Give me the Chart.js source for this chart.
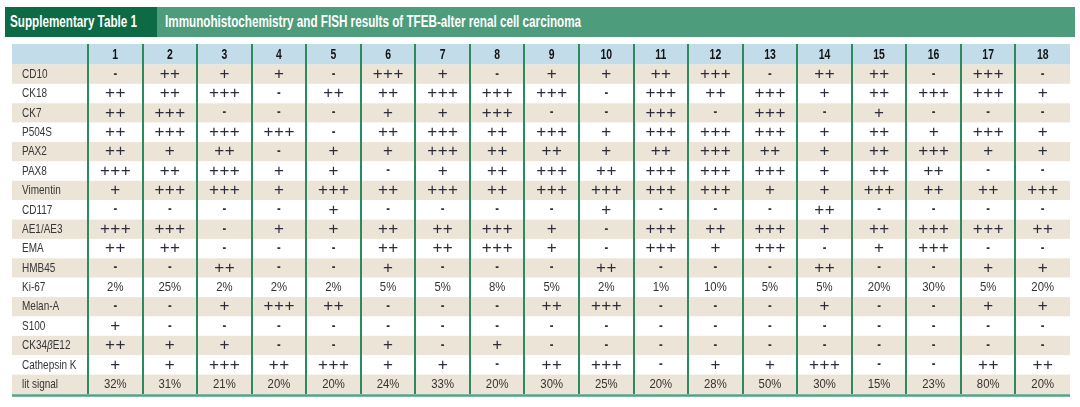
<!DOCTYPE html>
<html><head><meta charset="utf-8">
<script src="https://cdn.jsdelivr.net/npm/chart.js@4.4.1/dist/chart.umd.min.js"></script>
<style>
html,body{margin:0;padding:0;background:#fff;}
#wrap{position:relative;width:1080px;height:407px;overflow:hidden;}
#cv{position:absolute;left:0;top:0;width:1080px;height:407px;}
.tb{position:absolute;top:7px;height:30px;line-height:30px;color:#fff;font-family:"Liberation Sans",Arial,sans-serif;font-weight:bold;font-size:16px;white-space:nowrap;box-sizing:border-box;overflow:hidden;}
.tb span{display:inline-block;transform:scaleX(0.73);transform-origin:0 50%;}
#t1{left:5px;width:152px;background:#0c6a44;padding-left:5px;}
#t2{left:157px;width:918px;background:#4d9c7c;padding-left:8px;}
</style></head>
<body>
<div id="wrap">
<canvas id="cv" width="1080" height="407"></canvas>
<div class="tb" id="t1"><span>Supplementary Table 1</span></div>
<div class="tb" id="t2"><span>Immunohistochemistry and FISH results of TFEB-alter renal cell carcinoma</span></div>
</div>
<script>
const cases = ['1','2','3','4','5','6','7','8','9','10','11','12','13','14','15','16','17','18'];
const markers = ['CD10','CK18','CK7','P504S','PAX2','PAX8','Vimentin','CD117','AE1/AE3','EMA','HMB45','Ki-67','Melan-A','S100','CK34βE12','Cathepsin K','lit signal'];

const CD10      = ['-','++','+','+','-','+++','+','-','+','+','++','+++','-','++','++','-','+++','-'];
const CK18      = ['++','++','+++','-','++','++','+++','+++','+++','-','+++','++','+++','+','++','+++','+++','+'];
const CK7       = ['++','+++','-','-','-','+','+','+++','-','-','+++','-','+++','-','+','-','-','-'];
const P504S     = ['++','+++','+++','+++','-','++','+++','++','+++','+','+++','+++','+++','+','++','+','+++','+'];
const PAX2      = ['++','+','++','-','+','+','+++','++','++','+','++','+++','++','+','++','+++','+','+'];
const PAX8      = ['+++','++','+++','+','+','-','+','++','+++','++','+++','+++','+++','+','++','++','-','-'];
const Vimentin  = ['+','+++','+++','+','+++','++','+++','++','+++','+++','+++','+++','+','+','+++','++','++','+++'];
const CD117     = ['-','-','-','-','+','-','-','-','-','+','-','-','-','++','-','-','-','-'];
const AE1AE3    = ['+++','+++','-','+','+','++','++','+++','+','-','+++','++','+++','+','++','+++','+++','++'];
const EMA       = ['++','++','-','-','-','++','++','+++','+','-','+++','+','+++','-','+','+++','-','-'];
const HMB45     = ['-','-','++','-','-','+','-','-','-','++','-','-','-','++','-','-','+','+'];
const Ki67      = ['2%','25%','2%','2%','2%','5%','5%','8%','5%','2%','1%','10%','5%','5%','20%','30%','5%','20%'];
const MelanA    = ['-','-','+','+++','++','-','-','-','++','+++','-','-','-','+','-','-','+','+'];
const S100      = ['+','-','-','-','-','-','-','-','-','-','-','-','-','-','-','-','-','-'];
const CK34bE12  = ['++','+','+','-','-','+','-','+','-','-','-','-','-','-','-','-','-','-'];
const CathepsinK= ['+','+','+++','++','+++','+','+','-','++','+++','-','+','+','+++','-','-','++','++'];
const litSignal = ['32%','31%','21%','20%','20%','24%','33%','20%','30%','25%','20%','28%','50%','30%','15%','23%','80%','20%'];

const rows = [CD10,CK18,CK7,P504S,PAX2,PAX8,Vimentin,CD117,AE1AE3,EMA,HMB45,Ki67,MelanA,S100,CK34bE12,CathepsinK,litSignal];
const points = [];
rows.forEach((r, ri) => r.forEach((v, ci) => points.push({x: cases[ci], y: markers[ri], v: v})));

const SANS = '"Liberation Sans",Arial,sans-serif';

function narrowText(ctx, text, x, y, font, color, align, sq) {
  ctx.save();
  ctx.font = font;
  ctx.fillStyle = color;
  ctx.textBaseline = 'middle';
  ctx.textAlign = align;
  ctx.translate(x, y);
  ctx.scale(sq, 1);
  ctx.fillText(text, 0, 0);
  ctx.restore();
}

function labelText(ctx, text, x, y) {
  ctx.save();
  ctx.translate(x, y);
  ctx.scale(0.74, 1);
  ctx.textBaseline = 'middle';
  ctx.textAlign = 'left';
  ctx.fillStyle = '#363636';
  let cx = 0;
  text.split(/(β)/).forEach(p => {
    if (!p) return;
    ctx.font = (p === 'β' ? 'italic ' : '') + '13.5px ' + SANS;
    ctx.fillText(p, cx, 0);
    cx += ctx.measureText(p).width;
  });
  ctx.restore();
}

const tablePlugin = {
  id: 'tableLook',
  beforeDraw(chart) {
    const ctx = chart.ctx, xs = chart.scales.x, ys = chart.scales.y, ca = chart.chartArea;
    const left = 12, right = ca.right;
    const bandY = Math.abs(ys.getPixelForValue(1) - ys.getPixelForValue(0));
    const bandX = Math.abs(xs.getPixelForValue(1) - xs.getPixelForValue(0));
    ctx.save();
    ctx.fillStyle = '#c3dcea';
    ctx.fillRect(left, xs.top, right - left, ca.top - xs.top);
    markers.forEach((m, i) => {
      const cy = ys.getPixelForValue(i);
      ctx.fillStyle = (i % 2 === 0) ? '#ece4d6' : '#ffffff';
      ctx.fillRect(left, cy - bandY / 2, right - left, bandY);
    });
    ctx.strokeStyle = '#2b8a5f';
    ctx.lineWidth = 2;
    cases.forEach((c, i) => {
      const x = Math.round(xs.getPixelForValue(i) - bandX / 2);
      ctx.beginPath();
      ctx.moveTo(x, xs.top);
      ctx.lineTo(x, ca.bottom);
      ctx.stroke();
    });
    ctx.strokeStyle = '#4fa37f';
    ctx.lineWidth = 2.5;
    ctx.beginPath();
    ctx.moveTo(left, ca.bottom + 1.5);
    ctx.lineTo(right, ca.bottom + 1.5);
    ctx.stroke();
    ctx.restore();
  },
  afterDatasetsDraw(chart) {
    const ctx = chart.ctx, xs = chart.scales.x, ys = chart.scales.y, ca = chart.chartArea;
    cases.forEach((c, i) => {
      narrowText(ctx, c, xs.getPixelForValue(i), (xs.top + ca.top) / 2 + 0.5, 'bold 14.5px ' + SANS, '#141414', 'center', 0.72);
    });
    markers.forEach((m, i) => labelText(ctx, m, 22, ys.getPixelForValue(i)));
    const meta = chart.getDatasetMeta(0);
    meta.data.forEach((pt, i) => {
      const v = points[i].v;
      if (v.indexOf('+') >= 0) {
        ctx.save();
        ctx.font = '17px ' + SANS;
        ctx.fillStyle = '#2c2c3c';
        ctx.textAlign = 'center';
        ctx.textBaseline = 'middle';
        ctx.letterSpacing = '0.5px';
        ctx.fillText(v, pt.x + 0.25, pt.y);
        ctx.restore();
      } else if (v === '-') {
        narrowText(ctx, v, pt.x, pt.y - 0.5, 'bold 14px ' + SANS, '#333', 'center', 0.8);
      } else {
        narrowText(ctx, v, pt.x, pt.y, '13.5px ' + SANS, '#333', 'center', 0.84);
      }
    });
  }
};

new Chart(document.getElementById('cv'), {
  type: 'line',
  data: {
    datasets: [{
      data: points,
      showLine: false,
      pointRadius: 0,
      pointHoverRadius: 0
    }]
  },
  options: {
    responsive: false,
    animation: false,
    events: [],
    layout: { padding: { left: 22, right: 10, top: 44, bottom: 13 } },
    plugins: { legend: { display: false }, tooltip: { enabled: false }, title: { display: false } },
    scales: {
      x: {
        type: 'category', labels: cases, position: 'top', offset: true,
        grid: { display: false, drawTicks: false }, border: { display: false },
        ticks: { display: false, autoSkip: false },
        afterFit(s) { s.height = 20.5; }
      },
      y: {
        type: 'category', labels: markers, offset: true,
        grid: { display: false, drawTicks: false }, border: { display: false },
        ticks: { display: false, autoSkip: false },
        afterFit(s) { s.width = 66; }
      }
    }
  },
  plugins: [tablePlugin]
});
</script>
</body></html>
